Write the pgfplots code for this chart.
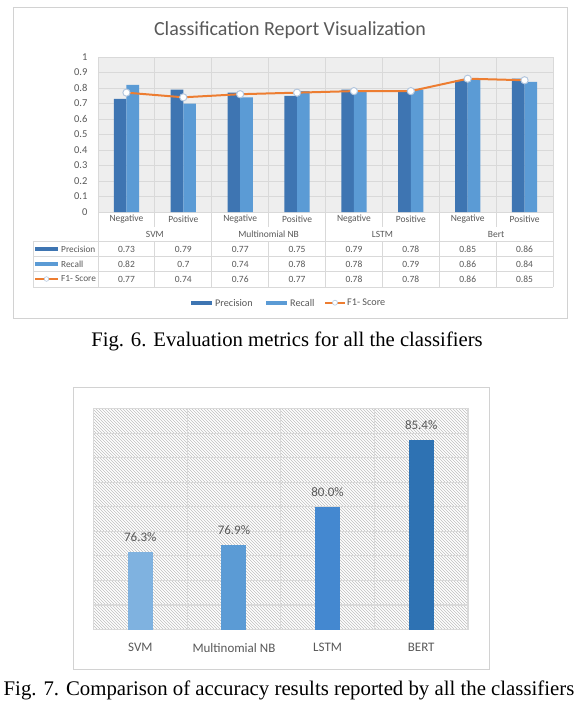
\documentclass[border=0pt]{standalone}
\usepackage{pgfplots}
\pgfplotsset{compat=1.18}
\usetikzlibrary{patterns}
\usepackage{fontspec}
\setmainfont{Carlito}
\newfontfamily\capfont{Liberation Serif}
\definecolor{gridc}{RGB}{217,217,217}
\definecolor{framec}{RGB}{210,210,210}
\definecolor{bgc}{RGB}{238,238,238}
\definecolor{txtc}{RGB}{89,89,89}
\definecolor{precc}{RGB}{62,117,178}
\definecolor{recc}{RGB}{91,155,213}
\definecolor{f1c}{RGB}{237,125,49}
\definecolor{markc}{RGB}{180,199,222}
\definecolor{svmc}{RGB}{127,178,224}
\definecolor{nbc}{RGB}{91,155,213}
\definecolor{lstmc}{RGB}{68,136,208}
\definecolor{bertc}{RGB}{46,114,179}
\begin{document}
\begin{tikzpicture}[x=1pt,y=1pt]
\useasboundingbox (0,0) rectangle (583,-709);
\fill[white] (0,0) rectangle (583,-709);
% ---------- Figure 6 ----------
\draw[framec, line width=0.8pt] (13,-7) rectangle (567,-318);
\node[text=txtc, font=\fontsize{20}{24}\selectfont] at (290,-30) {Classification Report Visualization};
\begin{axis}[
  at={(98pt,-212pt)}, anchor=south west, scale only axis,
  width=455pt, height=155pt,
  xmin=-0.5, xmax=7.5, ymin=0, ymax=1,
  ytick={0,0.1,0.2,0.3,0.4,0.5,0.6,0.7,0.8,0.9,1},
  yticklabels={0,0.1,0.2,0.3,0.4,0.5,0.6,0.7,0.8,0.9,1},
  xtick=\empty,
  extra x ticks={0.5,1.5,2.5,3.5,4.5,5.5,6.5},
  extra x tick labels={},
  extra x tick style={xmajorgrids=true},
  ymajorgrids,
  grid style={gridc, line width=0.8pt},
  major tick length=0,
  axis line style={gridc, line width=0.8pt},
  axis background/.style={fill=bgc},
  yticklabel style={font=\fontsize{10.5}{12}\selectfont, text=txtc, xshift=-7pt},
  clip=false,
]
\addplot[ybar, bar width=12.6pt, bar shift=-6.3pt, fill=precc, draw=none]
  coordinates {(0,0.73) (1,0.79) (2,0.77) (3,0.75) (4,0.79) (5,0.78) (6,0.85) (7,0.86)};
\addplot[ybar, bar width=12.6pt, bar shift=6.3pt, fill=recc, draw=none]
  coordinates {(0,0.82) (1,0.70) (2,0.74) (3,0.78) (4,0.78) (5,0.79) (6,0.86) (7,0.84)};
\addplot[sharp plot, f1c, line width=2pt, mark=*, mark size=3.6pt,
  mark options={fill=white, draw=markc, line width=1pt}]
  coordinates {(0,0.77) (1,0.74) (2,0.76) (3,0.77) (4,0.78) (5,0.78) (6,0.86) (7,0.85)};
\end{axis}
% table lines
\foreach \k in {0,...,4} {
  \draw[gridc, line width=0.8pt] ({98+113.75*\k},-212) -- ({98+113.75*\k},-287);
}
\foreach \k in {0,...,3} {
  \draw[gridc, line width=0.8pt] ({98+113.75*\k+56.875},-212) -- ({98+113.75*\k+56.875},-227);
  \draw[gridc, line width=0.8pt] ({98+113.75*\k+56.875},-241) -- ({98+113.75*\k+56.875},-287);
}
\foreach \yy in {241,256,271,287} {
  \draw[gridc, line width=0.8pt] (33,-\yy) -- (553,-\yy);
}
\draw[gridc, line width=0.8pt] (33,-241) -- (33,-287);
% category and group labels
\foreach \i/\lab in {0/Negative,1/Positive,2/Negative,3/Positive,4/Negative,5/Positive,6/Negative,7/Positive} {
  \node[text=txtc, font=\fontsize{9.5}{11}\selectfont] at ({98+56.875*(\i+0.5)},-219.5) {\lab};
}
\foreach \i/\lab in {0/SVM,1/Multinomial NB,2/LSTM,3/Bert} {
  \node[text=txtc, font=\fontsize{9.5}{11}\selectfont] at ({98+113.75*(\i+0.5)},-234.5) {\lab};
}
% table header
\fill[precc] (35,-247) rectangle (58,-251);
\node[anchor=west, text=txtc, font=\fontsize{9.3}{11}\selectfont, inner sep=0pt] at (61,-249) {Precision};
\fill[recc] (35,-262) rectangle (58,-266);
\node[anchor=west, text=txtc, font=\fontsize{9.3}{11}\selectfont, inner sep=0pt] at (61,-264) {Recall};
\draw[f1c, line width=1.6pt] (35,-279) -- (58,-279);
\draw[markc, fill=white, line width=0.6pt] (46.5,-279) circle (2.3);
\node[anchor=west, text=txtc, font=\fontsize{9.3}{11}\selectfont, inner sep=0pt] at (61,-279) {F1- Score};
% table values
\foreach \i/\p/\r/\f in {0/0.73/0.82/0.77,1/0.79/0.7/0.74,2/0.77/0.74/0.76,3/0.75/0.78/0.77,4/0.79/0.78/0.78,5/0.78/0.79/0.78,6/0.85/0.86/0.86,7/0.86/0.84/0.85} {
  \node[text=txtc, font=\fontsize{9.5}{11}\selectfont] at ({98+56.875*(\i+0.5)},-249) {\p};
  \node[text=txtc, font=\fontsize{9.5}{11}\selectfont] at ({98+56.875*(\i+0.5)},-264) {\r};
  \node[text=txtc, font=\fontsize{9.5}{11}\selectfont] at ({98+56.875*(\i+0.5)},-279) {\f};
}
% legend
\fill[precc] (191,-300.5) rectangle (212,-305);
\node[anchor=west, text=txtc, font=\fontsize{10.2}{12}\selectfont, inner sep=0pt] at (215,-302.7) {Precision};
\fill[recc] (266,-300.5) rectangle (287,-305);
\node[anchor=west, text=txtc, font=\fontsize{10.2}{12}\selectfont, inner sep=0pt] at (290,-302.7) {Recall};
\draw[f1c, line width=1.6pt] (325,-302.7) -- (345,-302.7);
\draw[markc, fill=white, line width=0.6pt] (335,-302.7) circle (2.5);
\node[anchor=west, text=txtc, font=\fontsize{10.2}{12}\selectfont, inner sep=0pt] at (347,-302.7) {F1- Score};
% caption 6
\node[anchor=base, font=\capfont\fontsize{20.7}{24}\selectfont, inner sep=0pt] at (287,-346) {Fig. 6. Evaluation metrics for all the classifiers};
% ---------- Figure 7 ----------
\draw[framec, line width=1pt] (73,-387) rectangle (489,-669);
\begin{axis}[
  at={(93.5pt,-629.5pt)}, anchor=south west, scale only axis,
  width=374.5pt, height=221pt,
  xmin=-0.5, xmax=3.5, ymin=70, ymax=88,
  ytick={70,72,74,76,78,80,82,84,86,88}, yticklabels={},
  xtick={0,1,2,3}, xticklabels={SVM,Multinomial NB,LSTM,BERT},
  extra x ticks={0.5,1.5,2.5}, extra x tick labels={},
  extra x tick style={xmajorgrids=true},
  ymajorgrids,
  grid style={gridc, line width=1.1pt},
  major tick length=0,
  axis line style={gridc, line width=1.1pt},
  axis background/.style={pattern=north west lines, pattern color=gray!50},
  xticklabel style={font=\fontsize{13}{15}\selectfont, text=txtc, yshift=-10pt},
  every node near coord/.append style={font=\fontsize{13}{15}\selectfont, text=txtc, yshift=7pt},
  nodes near coords={\pgfmathprintnumber[fixed,fixed zerofill,precision=1,assume math mode=true]{\pgfplotspointmeta}\%},
]
\addplot[ybar, bar width=25pt, bar shift=0pt, fill=svmc, draw=none] coordinates {(0,76.3)};
\addplot[ybar, bar width=25pt, bar shift=0pt, fill=nbc, draw=none] coordinates {(1,76.9)};
\addplot[ybar, bar width=25pt, bar shift=0pt, fill=lstmc, draw=none] coordinates {(2,80.0)};
\addplot[ybar, bar width=25pt, bar shift=0pt, fill=bertc, draw=none] coordinates {(3,85.4)};
\end{axis}
\node[anchor=base, font=\capfont\fontsize{20.8}{24}\selectfont, inner sep=0pt] at (289,-695) {Fig. 7. Comparison of accuracy results reported by all the classifiers};
\end{tikzpicture}
\end{document}
